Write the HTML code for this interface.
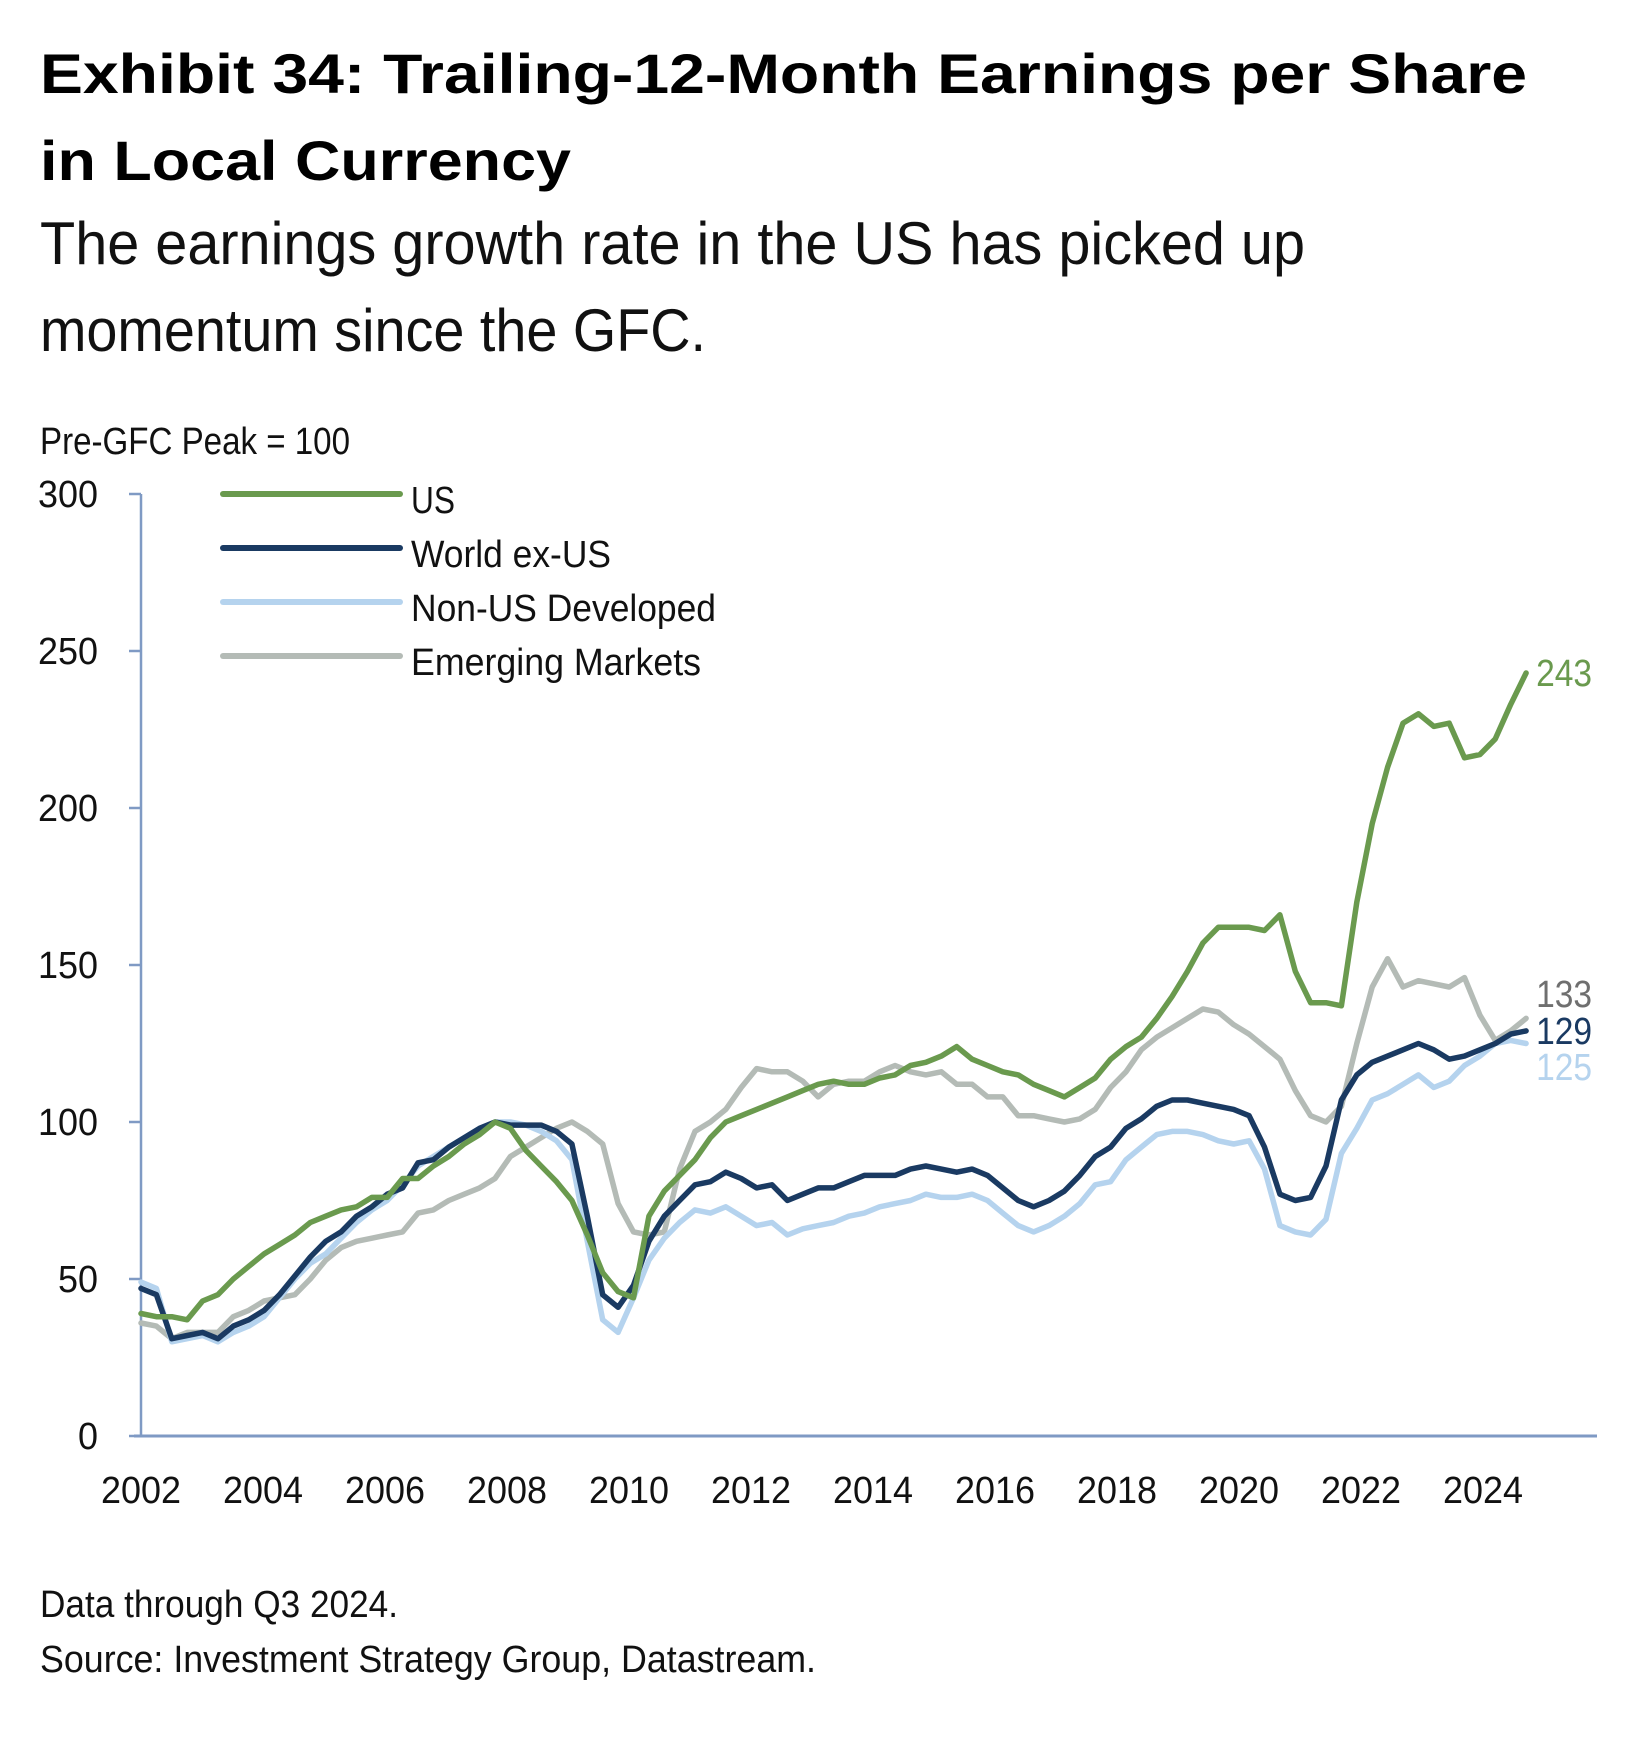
<!DOCTYPE html>
<html><head><meta charset="utf-8"><style>
html,body{margin:0;padding:0;background:#fff;}
svg{display:block;font-family:"Liberation Sans",sans-serif;}
</style></head><body>
<svg id="chart" width="1649" height="1741" viewBox="0 0 1649 1741" xmlns="http://www.w3.org/2000/svg">
<text x="40" y="93" font-size="56" font-weight="bold" fill="#000" textLength="1487" lengthAdjust="spacingAndGlyphs">Exhibit 34: Trailing-12-Month Earnings per Share</text>
<text x="40" y="180" font-size="56" font-weight="bold" fill="#000" textLength="531" lengthAdjust="spacingAndGlyphs">in Local Currency</text>
<text x="40" y="264" font-size="60" fill="#111" textLength="1265" lengthAdjust="spacingAndGlyphs">The earnings growth rate in the US has picked up</text>
<text x="40" y="351" font-size="60" fill="#111" textLength="666" lengthAdjust="spacingAndGlyphs">momentum since the GFC.</text>
<text x="40" y="454" font-size="38" fill="#111" textLength="310" lengthAdjust="spacingAndGlyphs">Pre-GFC Peak = 100</text>
<g id="axes"></g>
<g id="series"></g>
<g id="legend"></g>
<text x="40" y="1617" font-size="38" fill="#111" textLength="358" lengthAdjust="spacingAndGlyphs">Data through Q3 2024.</text>
<text x="40" y="1672" font-size="38" fill="#111" textLength="776" lengthAdjust="spacingAndGlyphs">Source: Investment Strategy Group, Datastream.</text>
</svg>
<script>
const yTicks=[0,50,100,150,200,250,300];
const xTickYears=[2002,2004,2006,2008,2010,2012,2014,2016,2018,2020,2022,2024];
const startYear=2002;
const usValues=[39,38,38,37,43,45,50,54,58,61,64,68,70,72,73,76,76,82,82,86,89,93,96,100,98,91,86,81,75,64,52,46,44,70,78,83,88,95,100,102,104,106,108,110,112,113,112,112,114,115,118,119,121,124,120,118,116,115,112,110,108,111,114,120,124,127,133,140,148,157,162,162,162,161,166,148,138,138,137,170,195,213,227,230,226,227,216,217,222,233,243];
const worldExUsValues=[47,45,31,32,33,31,35,37,40,45,51,57,62,65,70,73,77,79,87,88,92,95,98,100,99,99,99,97,93,70,45,41,48,62,70,75,80,81,84,82,79,80,75,77,79,79,81,83,83,83,85,86,85,84,85,83,79,75,73,75,78,83,89,92,98,101,105,107,107,106,105,104,102,92,77,75,76,86,107,115,119,121,123,125,123,120,121,123,125,128,129];
const nonUsDevValues=[49,47,30,31,32,30,33,35,38,44,50,55,58,63,68,72,75,80,86,89,92,95,98,100,100,99,97,94,88,62,37,33,44,56,63,68,72,71,73,70,67,68,64,66,67,68,70,71,73,74,75,77,76,76,77,75,71,67,65,67,70,74,80,81,88,92,96,97,97,96,94,93,94,85,67,65,64,69,90,98,107,109,112,115,111,113,118,121,125,126,125];
const emValues=[36,35,31,33,33,33,38,40,43,44,45,50,56,60,62,63,64,65,71,72,75,77,79,82,89,92,95,98,100,97,93,74,65,64,65,85,97,100,104,111,117,116,116,113,108,112,113,113,116,118,116,115,116,112,112,108,108,102,102,101,100,101,104,111,116,123,127,130,133,136,135,131,128,124,120,110,102,100,105,125,143,152,143,145,144,143,146,134,126,129,133];
const seriesNames=["US","World ex-US","Non-US Developed","Emerging Markets"];
const seriesColors=["#6a9a4e","#1a3a62","#b5d3ee","#b4bbb6"];
const endLabels=["243","129","125","133"];

const NS="http://www.w3.org/2000/svg";
const X0=141, PX_PER_YEAR=61.0, DATA_PX_PER_YEAR=61.56, Y0=1436, PX_PER_UNIT=(1436-494)/300;
function xScale(t){return X0+(t-startYear)*PX_PER_YEAR;}
function xData(t){return X0+(t-startYear)*DATA_PX_PER_YEAR;}
function yScale(v){return Y0-v*PX_PER_UNIT;}
function mk(tag,attrs){const e=document.createElementNS(NS,tag);for(const k in attrs)e.setAttribute(k,attrs[k]);return e;}

const axes=document.getElementById('axes');
const ya=mk('line',{x1:X0,y1:yScale(300),x2:X0,y2:Y0,stroke:'#7f9ac4','stroke-width':2.5});


axes.appendChild(ya);
const xa=mk('line',{x1:X0-7,y1:Y0,x2:1597,y2:Y0,stroke:'#7f9ac4','stroke-width':3});


axes.appendChild(xa);
yTicks.forEach(v=>{
  const t=mk('line',{x1:X0-12,y1:yScale(v),x2:X0,y2:yScale(v),stroke:'#7f9ac4','stroke-width':2.5});
  
  
  axes.appendChild(t);
  const l=mk('text',{x:98,y:yScale(v)+13,'text-anchor':'end','font-size':38,fill:'#111'});
  
  
  l.setAttribute('textLength',String(v).length*20);
  l.setAttribute('lengthAdjust','spacingAndGlyphs');
  l.textContent=v;axes.appendChild(l);
});
xTickYears.forEach(yr=>{
  const l=mk('text',{x:xScale(yr),y:1503,'text-anchor':'middle','font-size':38,fill:'#111',textLength:80,lengthAdjust:'spacingAndGlyphs'});
  
  
  l.textContent=yr;axes.appendChild(l);
});

const sg=document.getElementById('series');
const allSeries=[usValues,worldExUsValues,nonUsDevValues,emValues];
const order=[3,2,1,0];
order.forEach(i=>{
  const vals=allSeries[i];
  const d=vals.map((v,k)=>(k?'L':'M')+xData(startYear+k/4).toFixed(1)+','+yScale(v).toFixed(1)).join(' ');
  const p=mk('path',{d:d,fill:'none',stroke:seriesColors[i],'stroke-width':5.5,'stroke-linejoin':'round','stroke-linecap':'round'});
  
  
  sg.appendChild(p);
});
allSeries.forEach((vals,i)=>{
  const last=vals[vals.length-1];
  const lx=xData(startYear+(vals.length-1)/4)+10;
  let ly=yScale(last)+13;
  if(i===2) ly=yScale(worldExUsValues[worldExUsValues.length-1])+13+36;
  if(i===3) ly=yScale(worldExUsValues[worldExUsValues.length-1])+13-37;
  const t=mk('text',{x:lx,y:ly,'font-size':38,fill:i===3?'#6f6f6f':seriesColors[i],textLength:56,lengthAdjust:'spacingAndGlyphs'});
  
  
  t.textContent=endLabels[i];sg.appendChild(t);
});

const lg=document.getElementById('legend');
const legendWidths=[44,200,305,290];
seriesNames.forEach((n,i)=>{
  const y=494+i*54;
  const g=mk('g',{});
  
  
  g.appendChild(mk('line',{x1:223,y1:y,x2:400,y2:y,stroke:seriesColors[i],'stroke-width':6,'stroke-linecap':'round'}));
  const t=mk('text',{x:411,y:y+19,'font-size':38,fill:'#111',textLength:legendWidths[i],lengthAdjust:'spacingAndGlyphs'});
  t.textContent=n;g.appendChild(t);
  lg.appendChild(g);
});
</script>
</body></html>
